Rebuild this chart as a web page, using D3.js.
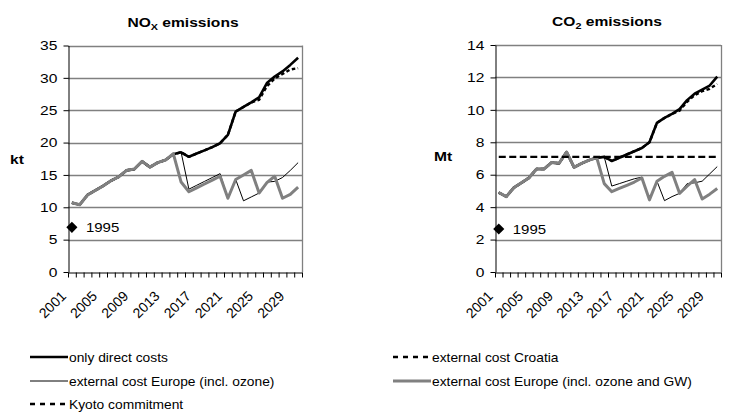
<!DOCTYPE html>
<html><head><meta charset="utf-8">
<script src="https://cdn.jsdelivr.net/npm/d3@7"></script>
<style>body{margin:0;background:#fff} svg{display:block} text{font-family:Arial,"Liberation Sans",sans-serif;fill:#000}</style>
</head><body><svg id="c" width="753" height="420"></svg>
<script>
// ---- data ----
const years = ["2001","2002","2003","2004","2005","2006","2007","2008","2009","2010",
  "2011","2012","2013","2014","2015","2016","2017","2018","2019","2020",
  "2021","2022","2023","2024","2025","2026","2027","2028","2029","2030"];
const tickLabels = ["2001","2005","2009","2013","2017","2021","2025","2029"];
const noxTicks = [0,5,10,15,20,25,30,35];
const co2Ticks = [0,2,4,6,8,10,12,14];

const noxDirect  = [10.7,10.4,11.9,12.6,13.3,14.1,14.7,15.7,15.9,17.1,16.2,16.9,17.3,18.2,18.5,17.8,18.3,18.8,19.3,19.9,21.2,24.8,25.5,26.2,27.0,29.2,30.2,31.0,32.0,33.1];
const noxCroatia = [10.7,10.4,11.9,12.6,13.3,14.1,14.7,15.7,15.9,17.1,16.2,16.9,17.3,18.2,18.5,17.8,18.3,18.8,19.3,19.9,21.2,24.8,25.5,26.2,26.6,28.7,29.9,30.6,31.3,31.5];
const noxEurope  = [10.7,10.4,11.9,12.6,13.3,14.1,14.7,15.7,15.9,17.1,16.2,16.9,17.3,18.2,18.5,12.8,13.4,14.0,14.6,15.2,11.4,14.3,11.0,11.6,12.2,13.9,14.0,14.6,15.7,16.9];
const noxEuropeGW= [10.7,10.4,11.9,12.6,13.3,14.1,14.7,15.7,15.9,17.1,16.2,16.9,17.3,18.3,13.9,12.4,13.0,13.6,14.2,14.8,11.4,14.3,15.0,15.7,12.2,13.8,14.8,11.4,12.0,13.1];
const nox1995 = 6.9;

const co2Direct  = [4.9,4.65,5.2,5.5,5.8,6.35,6.35,6.75,6.7,7.4,6.45,6.7,6.9,7.05,7.1,6.85,7.05,7.25,7.45,7.65,8.0,9.2,9.5,9.75,10.05,10.6,11.0,11.25,11.5,12.05];
const co2Croatia = [4.9,4.65,5.2,5.5,5.8,6.35,6.35,6.75,6.7,7.4,6.45,6.7,6.9,7.05,7.1,6.85,7.05,7.25,7.45,7.65,8.0,9.2,9.5,9.75,9.95,10.5,10.9,11.15,11.3,11.6];
const co2Europe  = [4.9,4.65,5.2,5.5,5.8,6.35,6.35,6.75,6.7,7.4,6.45,6.7,6.9,7.05,7.1,5.3,5.45,5.6,5.75,5.85,4.45,5.6,4.4,4.65,4.85,5.45,5.5,5.6,6.05,6.5];
const co2EuropeGW= [4.9,4.65,5.2,5.5,5.8,6.35,6.35,6.75,6.7,7.4,6.45,6.7,6.9,7.05,5.45,4.95,5.15,5.35,5.55,5.8,4.45,5.6,5.9,6.15,4.85,5.3,5.7,4.5,4.8,5.15];
const co2Kyoto   = [7.1,7.1,7.1,7.1,7.1,7.1,7.1,7.1,7.1,7.1,7.1,7.1,7.1,7.1,7.1,7.1,7.1,7.1,7.1,7.1,7.1,7.1,7.1,7.1,7.1,7.1,7.1,7.1,7.1,7.1];
const co21995 = 2.65;

const legendLabels = ["only direct costs","external cost Croatia","external cost Europe (incl. ozone)","external cost Europe (incl. ozone and GW)","Kyoto commitment"];

// ---- styles ----
const STY = {
  direct:   {stroke:"#000", width:2.6, dash:null, ldash:null},
  croatia:  {stroke:"#000", width:2.4, dash:"3.5,2.5", ldash:"5,5"},
  europe:   {stroke:"#000", width:1, dash:null, ldash:null},
  europeGW: {stroke:"#808080", width:3, dash:null, ldash:null},
  kyoto:    {stroke:"#000", width:2.4, dash:"7,3.5", ldash:"5,5"}
};
const SX = 1.2; // horizontal text stretch

const svg = d3.select("#c");

function stext(g, x, y, str, size, anchor, weight, sx){
  return g.append("text")
    .attr("transform", `translate(${x},${y}) scale(${sx||SX},1)`)
    .attr("text-anchor", anchor||"start")
    .style("font-size", size+"px")
    .style("font-weight", weight||"normal")
    .text(str);
}

function panel(cfg){
  const g = svg.append("g");
  const x = d3.scaleBand().domain(years).range([cfg.left, cfg.right]).padding(0);
  const xb = d3.scaleLinear().domain([0, years.length]).range([cfg.left, cfg.right]);
  const y = d3.scaleLinear().domain([0, cfg.ymax]).range([cfg.bottom, cfg.top]);
  const cx = d => x(d) + x.bandwidth()/2;

  g.append("g").selectAll("line").data(cfg.ticks.filter(t => t>0)).join("line")
    .attr("x1", cfg.left).attr("x2", cfg.right)
    .attr("y1", d => Math.round(y(d))+0.5).attr("y2", d => Math.round(y(d))+0.5)
    .attr("stroke", "#808080").attr("stroke-width", 1.3);
  g.append("line").attr("x1", cfg.right+0.5).attr("x2", cfg.right+0.5)
    .attr("y1", y(cfg.ymax)).attr("y2", cfg.bottom).attr("stroke","#808080").attr("stroke-width",1.3);

  const ya = g.append("g").attr("transform", `translate(${cfg.left+0.5},0)`)
    .call(d3.axisLeft(y).tickValues(cfg.ticks).tickSize(5).tickPadding(4.2).tickSizeOuter(0));
  ya.select(".domain").attr("stroke","#000");
  ya.selectAll("line").attr("stroke","#000");
  ya.selectAll("text").style("font-size","13px").style("font-family","Arial, 'Liberation Sans', sans-serif")
    .attr("transform", `scale(${SX},1)`).attr("x", -9.2);

  const xa = g.append("g").attr("transform", `translate(0,${cfg.bottom+0.5})`)
    .call(d3.axisBottom(xb).tickValues(d3.range(years.length+1)).tickSize(5).tickFormat("").tickSizeOuter(0));
  xa.select(".domain").attr("stroke","#000");
  xa.selectAll("line").attr("stroke","#000");
  g.append("g").selectAll("text").data(tickLabels).join("text")
    .attr("transform", d => `translate(${cx(d)-5},${cfg.bottom+25}) rotate(-45)`)
    .attr("text-anchor","end")
    .style("font-size","14px")
    .text(d => d);

  const line = d3.line().x((d,i) => cx(years[i])).y(d => y(d));
  cfg.series.forEach(s => {
    const st = STY[s.key];
    g.append("path").datum(s.values)
      .attr("d", line).attr("fill","none")
      .attr("stroke", st.stroke).attr("stroke-width", st.width)
      .attr("stroke-dasharray", st.dash)
      .attr("stroke-linejoin","round");
  });

  const dx = cx(years[0]), dy = y(cfg.v1995);
  g.append("path").attr("d", d3.symbol(d3.symbolSquare, 62)())
    .attr("transform", `translate(${dx},${dy}) rotate(45)`).attr("fill","#000");
  stext(g, dx+14, dy+4.5, "1995", 12.5, "start");

  const t = g.append("text")
    .attr("transform", `translate(${cfg.titleX},${cfg.titleY}) scale(${SX},1)`)
    .attr("text-anchor","middle").style("font-size","13px").style("font-weight","bold");
  t.append("tspan").text(cfg.titleA);
  t.append("tspan").attr("dy",3).style("font-size","9px").text(cfg.titleSub);
  t.append("tspan").attr("dy",-3).text(" emissions");

  stext(g, cfg.unitX, cfg.unitY, cfg.unit, 13, "middle", "bold");
}

panel({left:68, right:302, top:45.5, bottom:272, ymax:35, ticks:noxTicks,
  titleA:"NO", titleSub:"X", titleX:183, titleY:27, unit:"kt", unitX:17, unitY:164,
  v1995:nox1995,
  series:[{key:"direct",values:noxDirect},{key:"croatia",values:noxCroatia},
          {key:"europe",values:noxEurope},{key:"europeGW",values:noxEuropeGW}]});

panel({left:495, right:721, top:45, bottom:272, ymax:14, ticks:co2Ticks,
  titleA:"CO", titleSub:"2", titleX:607, titleY:26, unit:"Mt", unitX:443, unitY:161,
  v1995:co21995,
  series:[{key:"direct",values:co2Direct},{key:"croatia",values:co2Croatia},
          {key:"europe",values:co2Europe},{key:"europeGW",values:co2EuropeGW},
          {key:"kyoto",values:co2Kyoto}]});

const leg = svg.append("g");
const legItems = [
  {key:"direct",   label:legendLabels[0], x:30,  y:357},
  {key:"croatia",  label:legendLabels[1], x:393, y:357},
  {key:"europe",   label:legendLabels[2], x:30,  y:381},
  {key:"europeGW", label:legendLabels[3], x:393, y:381},
  {key:"kyoto",    label:legendLabels[4], x:30,  y:404}
];
legItems.forEach(it => {
  const st = STY[it.key];
  leg.append("line").attr("x1", it.x).attr("x2", it.x+38).attr("y1", it.y).attr("y2", it.y)
    .attr("stroke", st.stroke).attr("stroke-width", st.width).attr("stroke-dasharray", st.ldash);
  stext(leg, it.x+39, it.y+4.5, it.label, 12, "start", "normal", 1.15);
});
</script></body></html>
